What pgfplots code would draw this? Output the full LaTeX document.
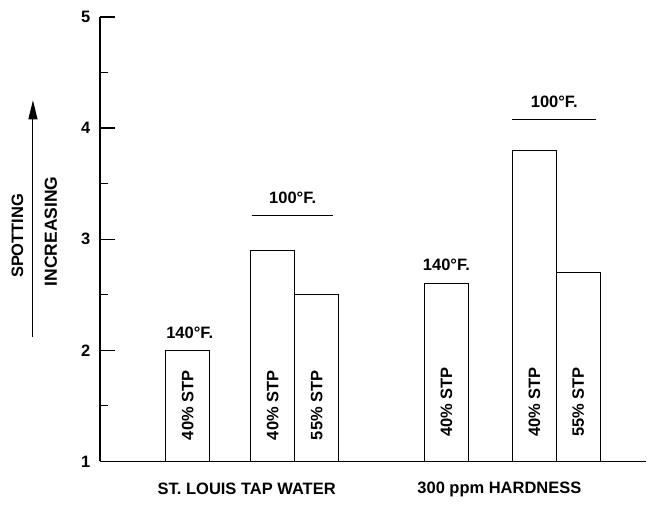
\documentclass[border=0pt]{standalone}
\usepackage{fontspec}
\setmainfont{Liberation Sans}
\usepackage{pgfplots}
\pgfplotsset{compat=1.18}
\usetikzlibrary{arrows.meta}
\tikzset{lbl/.style={font=\fontsize{16.5}{18}\selectfont\bfseries, inner sep=0pt}}
\begin{document}
\begin{tikzpicture}[x=1pt,y=1pt]
\begin{axis}[
  at={(0,0)}, anchor=south west,
  scale only axis, width=547pt, height=445pt,
  xmin=0, xmax=547, ymin=1, ymax=5,
  axis lines=left, axis line style={-, line width=1.6pt},
  axis on top,
  xtick=\empty,
  ytick={1,2,3,4,5}, minor ytick={1.5,2.5,3.5,4.5},
  yticklabels={\textbf{1},\textbf{2},\textbf{3},\textbf{4},\textbf{5}},
  major tick length=15pt, minor tick length=8pt,
  tick style={line width=1.2pt, black},
  tick align=inside,
  yticklabel style={font=\fontsize{16.5}{18}\selectfont\bfseries, xshift=-6pt},
  clip mode=individual,
  ybar, bar width=44,
]
\addplot[draw=black, fill=white, line width=1.3pt] coordinates {
  (88,2.0) (173,2.9) (217,2.5) (347,2.6) (435,3.8) (479,2.7)
};
% labels inside bars
\node[lbl, rotate=90, anchor=west] at (axis cs:88,1.19) {40\% STP};
\node[lbl, rotate=90, anchor=west] at (axis cs:173,1.19) {40\% STP};
\node[lbl, rotate=90, anchor=west] at (axis cs:217,1.19) {55\% STP};
\node[lbl, rotate=90, anchor=west] at (axis cs:347,1.22) {40\% STP};
\node[lbl, rotate=90, anchor=west] at (axis cs:435,1.22) {40\% STP};
\node[lbl, rotate=90, anchor=west] at (axis cs:479,1.22) {55\% STP};
% temperatures
\node[lbl] at (axis cs:90,2.16) {140°F.};
\node[lbl] at (axis cs:193,3.37) {100°F.};
\draw[line width=1.2pt] (axis cs:152,3.21) -- (axis cs:233,3.21);
\node[lbl] at (axis cs:347,2.77) {140°F.};
\node[lbl] at (axis cs:455,4.24) {100°F.};
\draw[line width=1.2pt] (axis cs:413,4.08) -- (axis cs:497,4.08);
% groups
\node[lbl] at (axis cs:147,0.75) {ST. LOUIS TAP WATER};
\node[lbl] at (axis cs:400,0.75) {300 ppm HARDNESS};
% y label
\node[lbl, rotate=90] at (axis cs:-82.5,3.03) {SPOTTING};
\node[lbl, rotate=90, font=\fontsize{17.5}{19}\selectfont\bfseries] at (axis cs:-49,3.07) {INCREASING};
\draw[line width=1pt, -{Stealth[length=19pt,width=9pt,inset=0pt]}] (axis cs:-67,2.12) -- (axis cs:-67,4.25);
\end{axis}
\path[use as bounding box] (-100,-46) rectangle (547,462);
\end{tikzpicture}
\end{document}
